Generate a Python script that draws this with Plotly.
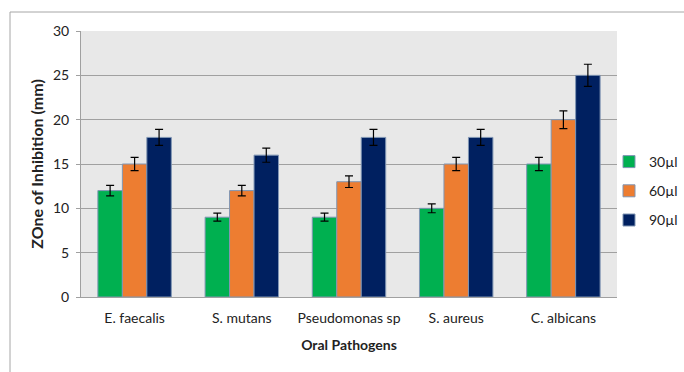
import plotly.graph_objects as go

categories = ["E. faecalis", "S. mutans", "Pseudomonas sp", "S. aureus", "C. albicans"]
series_names = ["30\u00b5l", "60\u00b5l", "90\u00b5l"]
v30 = [12, 9, 9, 10, 15]
v60 = [15, 12, 13, 15, 20]
v90 = [18, 16, 18, 18, 25]
e30 = [0.6, 0.45, 0.45, 0.5, 0.75]
e60 = [0.75, 0.6, 0.65, 0.75, 1.0]
e90 = [0.9, 0.8, 0.9, 0.9, 1.25]
y_ticks = [0, 5, 10, 15, 20, 25, 30]

colors = ["#00b050", "#ed7d31", "#002060"]
FONT = "Lato, Open Sans, sans-serif"

fig = go.Figure()
for name, vals, errs, col in zip(series_names, [v30, v60, v90], [e30, e60, e90], colors):
    fig.add_trace(go.Bar(
        name=name, x=categories, y=vals, legendgroup=name,
        marker=dict(color=col, line=dict(color="#8096b4", width=1)),
        error_y=dict(type="data", array=errs, visible=True, color="#000000",
                     thickness=1.2, width=4),
    ))

L, R, T, B = 81, 67, 31, 75
W, H = 684, 372
pw, ph = W - L - R, H - T - B

def px_x(p):
    return (p - L) / pw

def px_y(p):
    return (H - B - p) / ph

fig.update_layout(
    width=W, height=H,
    margin=dict(l=L, r=R, t=T, b=B, autoexpand=False),
    paper_bgcolor="white",
    plot_bgcolor="#e8e8e8",
    barmode="group",
    bargap=0.315,
    bargroupgap=0,
    font=dict(family=FONT, size=14, color="#222222"),
    showlegend=True,
    legend=dict(xref="container", yref="container", x=609 / W, y=1 - 191 / H,
                xanchor="left", yanchor="middle",
                font=dict(size=14, color="#222222"), tracegroupgap=8,
                bgcolor="rgba(0,0,0,0)"),
    xaxis=dict(
        title=dict(text="<b>Oral Pathogens</b>", font=dict(size=14), standoff=15),
        showline=True, linecolor="#a0a0a0", linewidth=1,
        ticks="", showgrid=False, automargin=False, ticklabelstandoff=8,
    ),
    yaxis=dict(
        title=dict(text="<b>ZOne of Inhibition (mm)</b>", font=dict(size=16), standoff=5),
        range=[0, 30], tickvals=y_ticks,
        showline=True, linecolor="#a0a0a0", linewidth=1,
        ticks="outside", ticklen=4, tickcolor="#a0a0a0", ticklabelstandoff=4,
        gridcolor="#a0a0a0", gridwidth=1, zeroline=False, automargin=False,
    ),
    shapes=[
        dict(type="line", xref="paper", yref="paper",
             x0=px_x(10), x1=px_x(700), y0=px_y(12), y1=px_y(12),
             line=dict(color="#a6a6a6", width=1)),
        dict(type="line", xref="paper", yref="paper",
             x0=px_x(10), x1=px_x(10), y0=px_y(12), y1=px_y(380),
             line=dict(color="#a6a6a6", width=1)),
    ],
)

fig.write_html("out.html", config={"displayModeBar": False},
               post_script="document.body.style.margin='0';document.body.style.overflow='hidden';")
